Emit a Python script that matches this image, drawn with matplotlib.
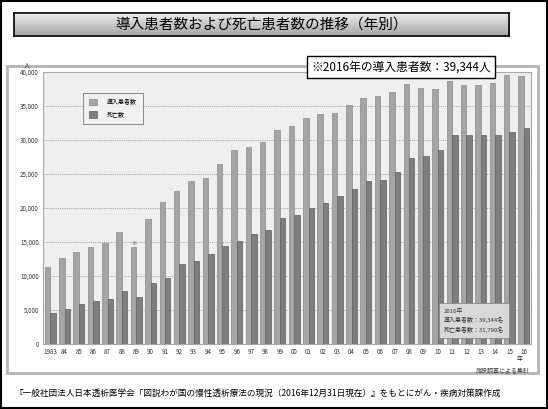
import matplotlib
matplotlib.use("Agg")
import matplotlib.pyplot as plt
import numpy as np
from matplotlib.patches import Rectangle, Patch

plt.rcParams['font.family'] = ['Noto Sans CJK JP', 'DejaVu Sans']

# data
years = ['1983', '84', '85', '86', '87', '88', '89', '90', '91', '92', '93', '94',
         '95', '96', '97', '98', '99', '00', '01', '02', '03', '04', '05', '06',
         '07', '08', '09', '10', '11', '12', '13', '14', '15', '16']
new_patients = [11370, 12700, 13480, 14220, 14800, 16520, 14220, 18430, 20880, 22500,
                23920, 24370, 26470, 28480, 28920, 29700, 31510, 32100, 33280, 33780,
                34010, 35150, 36130, 36470, 37060, 38240, 37650, 37550, 38680, 38090,
                38130, 38380, 39560, 39344]
deaths = [4600, 5100, 5840, 6370, 6620, 7800, 6860, 9010, 9750, 11720,
          12180, 13280, 14460, 15190, 16180, 16760, 18570, 19010, 19950, 20690,
          21760, 22790, 24010, 24120, 25290, 27350, 27690, 28480, 30780, 30740,
          30780, 30740, 31130, 31790]
yticks = [0, 5000, 10000, 15000, 20000, 25000, 30000, 35000, 40000]
legend_labels = ['導入患者数', '死亡数']

W, H = 548, 409
fig = plt.figure(figsize=(W / 100, H / 100), dpi=100)
fig.patch.set_facecolor('white')


def fx(px):
    return px / W


def fy(py):
    return 1 - py / H


# outer black frame
fig.patches.append(Rectangle((0.001, 0.002), 0.997, 0.996, transform=fig.transFigure,
                             fill=False, edgecolor='black', lw=1.5))
# gray panel
fig.patches.append(Rectangle((fx(7), fy(373)), fx(538 - 7), (373 - 66) / H,
                             transform=fig.transFigure, fill=False,
                             edgecolor='#b4b4b4', lw=2))

# title bar with gradient
tax = fig.add_axes([fx(14), fy(36), fx(495), 23 / H])
grad = np.linspace(0.93, 0.64, 50).reshape(-1, 1)
tax.imshow(grad, aspect='auto', cmap='gray', vmin=0, vmax=1, extent=[0, 1, 0, 1])
tax.set_xticks([])
tax.set_yticks([])
for s in tax.spines.values():
    s.set_color('black')
    s.set_linewidth(1.2)
tax.text(0.5, 0.48, '導入患者数および死亡患者数の推移（年別）', ha='center', va='center',
         fontsize=10.5, color='black', transform=tax.transAxes)

# main chart
ax = fig.add_axes([fx(43), fy(344), fx(531 - 43), (344 - 72) / H])
ax.set_facecolor('#efefef')
x = np.arange(len(years))
w = 0.38
ax.bar(x - w / 2, new_patients, width=w, color='#a5a5a5', edgecolor='#8a8a8a',
       linewidth=0.5, zorder=3)
ax.bar(x + w / 2, deaths, width=w, color='#7e7e7e', edgecolor='#5e5e5e',
       linewidth=0.5, zorder=3)
ax.set_xlim(-0.5, len(years) - 0.5)
ax.set_ylim(0, 40000)
ax.set_yticks(yticks)
ax.set_yticklabels([f'{v:,}' for v in yticks])
ax.set_xticks(x)
ax.set_xticklabels(years)
ax.tick_params(axis='both', length=0, labelsize=4.5, colors='#333333', pad=3)
ax.yaxis.grid(True, color='#8c8c8c', linestyle=(0, (1, 1.2)), linewidth=0.6, zorder=1)
for s in ax.spines.values():
    s.set_color('#a8a8a8')
    s.set_linewidth(0.8)

# mark above 1989
ax.text(6 - w / 2, new_patients[6] + 150, '※', ha='center', va='bottom',
        fontsize=4, color='#555555', zorder=4)

handles = [Patch(facecolor='#a5a5a5', edgecolor='#8a8a8a', lw=0.5),
           Patch(facecolor='#7e7e7e', edgecolor='#5e5e5e', lw=0.5)]
leg = ax.legend(handles, legend_labels, loc='upper left', bbox_to_anchor=(0.076, 0.935),
                fontsize=4.3, frameon=True, fancybox=False, handlelength=1.4,
                handleheight=1.3, borderpad=1.0, labelspacing=1.0, handletextpad=1.6)
leg.get_frame().set_facecolor('#f2f2f2')
leg.get_frame().set_edgecolor('#707070')
leg.get_frame().set_linewidth(0.7)
leg.set_zorder(5)

ax.text(0.822, 0.132, '2016年\n導入患者数：39,344名\n死亡患者数：31,790名',
        transform=ax.transAxes, ha='left', va='top', fontsize=4.3, color='#333333',
        linespacing=1.65, zorder=6,
        bbox=dict(boxstyle='square,pad=0.8', facecolor='#d9d9d9', edgecolor='#8a8a8a',
                  linewidth=0.6))

fig.text(fx(27), fy(65), '人', ha='center', va='center', fontsize=4.5, color='#333333')
fig.text(fx(520), fy(359), '年', ha='center', va='center', fontsize=4.3, color='#333333')
fig.text(fx(530), fy(370), '施設調査による集計', ha='right', va='center', fontsize=4.3,
         color='#333333')

# highlighted box at the top
fig.text(fx(401), fy(67), '※2016年の導入患者数：39,344人', ha='center', va='center',
         fontsize=8.5, color='black',
         bbox=dict(boxstyle='square,pad=0.35', facecolor='white', edgecolor='black',
                   linewidth=1.0))

fig.text(fx(258), fy(393),
         '『一般社団法人日本透析医学会「図説わが国の慢性透析療法の現況（2016年12月31日現在）』をもとにがん・疾病対策課作成',
         ha='center', va='center', fontsize=6.2, color='black')

fig.savefig('out.png', dpi=100)
